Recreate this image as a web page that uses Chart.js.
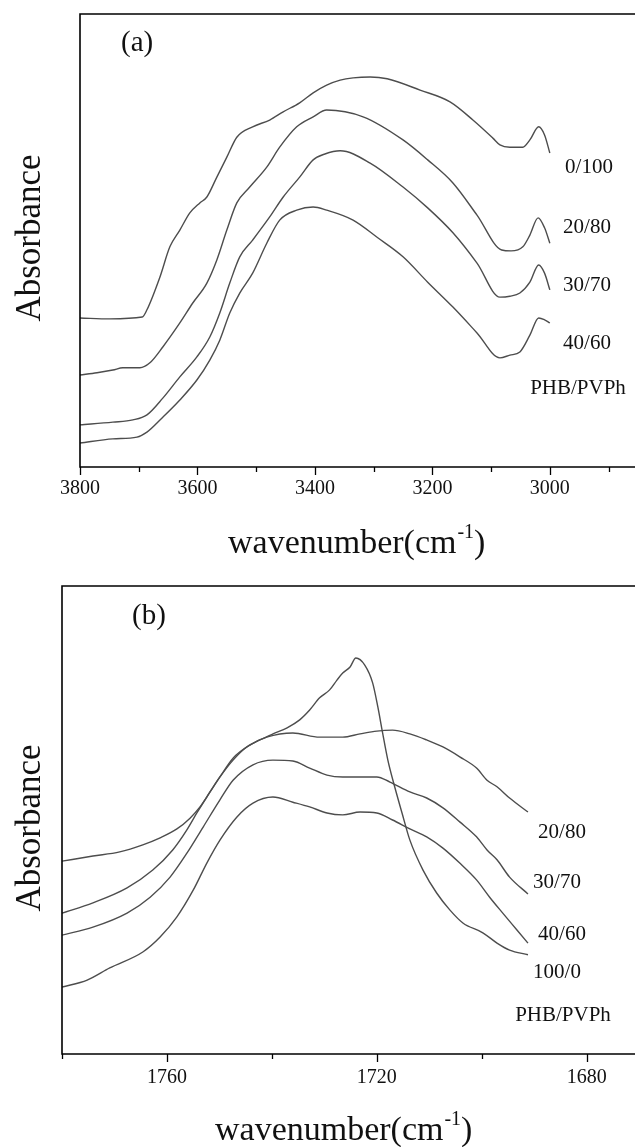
<!DOCTYPE html>
<html>
<head>
<meta charset="utf-8">
<script src="https://cdn.jsdelivr.net/npm/chart.js@4.4.1/dist/chart.umd.min.js"></script>
<style>
  html, body { margin: 0; padding: 0; background: #fff; }
  #wrap { position: relative; width: 635px; height: 1147px; overflow: hidden; }
  canvas { position: absolute; left: 0; }
</style>
</head>
<body>
<div id="wrap">
  <canvas id="panelA" width="635" height="570" style="top:0"></canvas>
  <canvas id="panelB" width="635" height="577" style="top:570px"></canvas>
</div>
<script>
// FTIR spectra of PHB/PVPh blends — (a) OH stretching, (b) carbonyl region

// panel (a): 3800-3000 cm-1, absorbance in arbitrary (offset) units
const a_wn_0_100  = [3800, 3749, 3694, 3686, 3664, 3647, 3630, 3613, 3596, 3584, 3567, 3550, 3533, 3506, 3477, 3454, 3426, 3403, 3380, 3357, 3335, 3306, 3277, 3221, 3170, 3131, 3097, 3085, 3068, 3046, 3034, 3019, 3009, 3000];
const a_abs_0_100 = [32.9, 32.7, 33.1, 34.7, 41.9, 48.6, 52.3, 56.1, 58.3, 59.6, 64.0, 68.4, 72.8, 75.1, 76.6, 78.4, 80.4, 82.6, 84.3, 85.4, 85.9, 86.1, 85.7, 83.2, 80.6, 76.6, 72.6, 71.1, 70.6, 70.6, 72.2, 75.1, 73.3, 69.3];

const a_wn_20_80  = [3800, 3771, 3744, 3727, 3698, 3681, 3659, 3630, 3608, 3584, 3567, 3550, 3533, 3511, 3482, 3460, 3431, 3403, 3380, 3318, 3250, 3208, 3165, 3124, 3082, 3066, 3046, 3034, 3020, 3009, 3000];
const a_abs_20_80 = [20.3, 20.8, 21.4, 21.9, 21.9, 23.0, 26.5, 31.8, 36.2, 40.6, 45.7, 52.3, 58.3, 61.8, 66.2, 70.6, 75.1, 77.3, 78.8, 77.3, 72.2, 67.8, 62.7, 55.6, 47.9, 47.7, 48.6, 51.2, 55.0, 52.8, 49.4];

const a_wn_30_70  = [3800, 3744, 3710, 3686, 3659, 3630, 3601, 3579, 3562, 3545, 3528, 3506, 3477, 3454, 3426, 3403, 3383, 3357, 3306, 3250, 3208, 3165, 3124, 3085, 3068, 3051, 3034, 3019, 3009, 3000];
const a_abs_30_70 = [9.3, 9.9, 10.4, 11.5, 15.2, 19.9, 24.3, 28.7, 34.0, 40.6, 46.4, 50.1, 55.2, 59.6, 64.0, 67.8, 69.1, 69.8, 67.1, 61.8, 57.2, 51.7, 45.0, 37.5, 37.7, 38.4, 40.8, 44.6, 42.8, 39.1];

const a_wn_40_60  = [3800, 3744, 3703, 3686, 3659, 3630, 3601, 3579, 3562, 3545, 3528, 3506, 3482, 3460, 3431, 3403, 3380, 3335, 3293, 3250, 3208, 3165, 3124, 3085, 3068, 3051, 3034, 3019, 3009, 3000];
const a_abs_40_60 = [5.3, 6.2, 6.6, 7.7, 11.0, 14.8, 19.2, 23.6, 28.0, 34.0, 38.4, 42.8, 49.4, 54.5, 56.7, 57.4, 56.7, 54.5, 50.6, 46.4, 40.8, 35.3, 29.6, 24.1, 24.7, 25.4, 29.1, 32.9, 32.5, 31.8];

// panel (b): 1780-1690 cm-1
const b_wn_100_0  = [1780.0, 1774.1, 1769.0, 1764.6, 1761.3, 1758.1, 1755.6, 1753.7, 1751.8, 1749.9, 1747.4, 1744.8, 1742.3, 1739.8, 1737.1, 1734.7, 1732.8, 1730.9, 1729.0, 1727.6, 1726.5, 1725.1, 1724.0, 1722.3, 1720.8, 1719.8, 1718.9, 1717.9, 1716.6, 1715.2, 1713.7, 1711.2, 1708.6, 1706.1, 1703.6, 1699.8, 1697.1, 1694.7, 1691.2];
const b_abs_100_0 = [41.2, 42.3, 43.2, 44.7, 46.2, 48.1, 50.4, 52.8, 56.0, 59.2, 62.8, 65.6, 67.1, 68.4, 69.7, 71.4, 73.5, 76.1, 77.8, 79.9, 81.4, 82.7, 84.6, 83.1, 79.3, 74.1, 68.6, 62.8, 57.1, 51.5, 45.7, 39.3, 34.4, 30.8, 28.0, 25.9, 23.7, 22.2, 21.2];

const b_wn_20_80  = [1780.0, 1774.1, 1767.6, 1762.7, 1758.9, 1756.2, 1754.3, 1752.4, 1749.9, 1747.4, 1744.2, 1741.0, 1736.0, 1730.9, 1726.5, 1723.2, 1720.0, 1717.0, 1713.7, 1710.5, 1707.4, 1704.2, 1701.0, 1699.0, 1697.1, 1694.7, 1691.2];
const b_abs_20_80 = [30.1, 32.3, 35.5, 39.3, 43.6, 47.9, 51.5, 54.9, 59.2, 63.2, 66.0, 67.7, 68.6, 67.7, 67.7, 68.4, 69.0, 69.2, 68.4, 67.1, 65.6, 63.5, 61.1, 58.5, 57.1, 54.7, 51.7];

const b_wn_30_70  = [1780.0, 1774.1, 1767.6, 1763.2, 1759.4, 1756.2, 1753.1, 1749.9, 1747.4, 1743.6, 1739.8, 1736.0, 1732.8, 1729.5, 1726.5, 1723.2, 1720.0, 1717.5, 1713.7, 1710.5, 1707.4, 1704.2, 1701.0, 1699.0, 1697.1, 1694.7, 1691.2];
const b_abs_30_70 = [25.4, 27.1, 30.1, 33.5, 37.8, 42.9, 48.5, 54.3, 58.5, 61.8, 62.8, 62.6, 61.1, 59.6, 59.2, 59.2, 59.2, 58.1, 56.0, 54.7, 52.6, 49.6, 46.4, 43.6, 41.5, 37.8, 34.2];

const b_wn_40_60  = [1780.0, 1775.2, 1770.9, 1764.6, 1761.3, 1758.1, 1755.0, 1752.4, 1749.9, 1746.7, 1743.6, 1739.8, 1736.0, 1732.8, 1729.5, 1726.5, 1723.2, 1720.0, 1717.0, 1713.7, 1710.5, 1707.4, 1704.2, 1701.0, 1698.5, 1696.0, 1693.3, 1691.2];
const b_abs_40_60 = [14.3, 15.8, 18.4, 21.8, 25.0, 29.3, 35.0, 40.8, 45.7, 50.6, 53.6, 54.9, 53.8, 52.8, 51.5, 51.1, 51.7, 51.5, 50.0, 48.1, 46.4, 44.0, 40.8, 37.2, 33.5, 30.1, 26.5, 23.7];

// axis ticks
const a_majorTicks = [3800, 3600, 3400, 3200, 3000];
const a_minorTicks = [3700, 3500, 3300, 3100, 2900];
const b_majorTicks = [1760, 1720, 1680];
const b_minorTicks = [1780, 1740, 1700];

const SERIF = '"Liberation Serif", "Times New Roman", serif';
const CURVE = '#4d4d4d';

const toPoints = (wn, abs) => wn.map((w, i) => ({ x: w, y: abs[i] }));

// frame, ticks and all text drawn on top of the plot
const frameAndText = {
    id: 'frameAndText',
    afterDraw(chart, args, o) {
        const { ctx, chartArea: ca } = chart;
        const x = chart.scales.x;
        ctx.save();
        ctx.strokeStyle = '#000';
        ctx.lineWidth = 1.6;
        ctx.beginPath();
        ctx.moveTo(chart.width, ca.top);
        ctx.lineTo(ca.left, ca.top);
        ctx.lineTo(ca.left, ca.bottom);
        ctx.lineTo(chart.width, ca.bottom);
        ctx.stroke();

        ctx.lineWidth = 1.3;
        const tick = (v, len) => {
            const px = Math.round(x.getPixelForValue(v)) + 0.5;
            ctx.beginPath();
            ctx.moveTo(px, ca.bottom);
            ctx.lineTo(px, ca.bottom + len);
            ctx.stroke();
        };
        o.major.forEach(v => tick(v, 8));
        o.minor.forEach(v => tick(v, 5));

        ctx.fillStyle = '#111';
        ctx.textAlign = 'center';
        ctx.textBaseline = 'alphabetic';
        ctx.font = '20px ' + SERIF;
        o.major.forEach(v => ctx.fillText(String(v), x.getPixelForValue(v), o.tickBaseline));

        // panel letter
        ctx.textAlign = 'left';
        ctx.font = '29px ' + SERIF;
        ctx.fillText(o.letter, o.letterPos[0], o.letterPos[1]);

        // curve labels
        ctx.textAlign = 'center';
        ctx.textBaseline = 'middle';
        ctx.font = '21px ' + SERIF;
        o.labels.forEach(l => ctx.fillText(l.text, l.x, l.y));

        // y title
        ctx.save();
        ctx.translate(o.yTitlePos[0], o.yTitlePos[1]);
        ctx.rotate(-Math.PI / 2);
        ctx.textAlign = 'center';
        ctx.textBaseline = 'alphabetic';
        ctx.font = '35px ' + SERIF;
        ctx.fillText('Absorbance', 0, 0);
        ctx.restore();

        // x title with superscript
        ctx.textAlign = 'left';
        ctx.textBaseline = 'alphabetic';
        let tx = o.xTitlePos[0];
        const ty = o.xTitlePos[1];
        ctx.font = '34px ' + SERIF;
        ctx.fillText('wavenumber(cm', tx, ty);
        tx += ctx.measureText('wavenumber(cm').width + 1;
        ctx.font = '20px ' + SERIF;
        ctx.fillText('-1', tx, ty - 15);
        tx += ctx.measureText('-1').width;
        ctx.font = '34px ' + SERIF;
        ctx.fillText(')', tx, ty);
        ctx.restore();
    }
};

function makePanel(id, series, range, pad, deco) {
    return new Chart(document.getElementById(id), {
        type: 'line',
        data: {
            datasets: series.map(s => ({
                label: s.label,
                data: toPoints(s.wn, s.abs),
                borderColor: CURVE,
                borderWidth: 1.4,
                pointRadius: 0,
                cubicInterpolationMode: 'monotone',
                fill: false,
            }))
        },
        options: {
            responsive: false,
            animation: false,
            layout: { padding: pad },
            scales: {
                x: { type: 'linear', reverse: true, min: range[0], max: range[1], display: false },
                y: { min: 0, max: 100, display: false },
            },
            plugins: {
                legend: { display: false },
                tooltip: { enabled: false },
                frameAndText: deco,
            }
        },
        plugins: [frameAndText]
    });
}

// Panel (a)
makePanel('panelA', [
    { label: '0/100', wn: a_wn_0_100, abs: a_abs_0_100 },
    { label: '20/80', wn: a_wn_20_80, abs: a_abs_20_80 },
    { label: '30/70', wn: a_wn_30_70, abs: a_abs_30_70 },
    { label: '40/60', wn: a_wn_40_60, abs: a_abs_40_60 },
], [2855, 3800], { left: 80, top: 14, right: 0, bottom: 103 }, {
    major: a_majorTicks, minor: a_minorTicks,
    tickBaseline: 494,
    letter: '(a)', letterPos: [121, 51],
    labels: [
        { text: '0/100', x: 589, y: 167 },
        { text: '20/80', x: 587, y: 227 },
        { text: '30/70', x: 587, y: 285 },
        { text: '40/60', x: 587, y: 343 },
        { text: 'PHB/PVPh', x: 578, y: 388 },
    ],
    yTitlePos: [40, 238],
    xTitlePos: [228, 553],
});

// Panel (b)
makePanel('panelB', [
    { label: '100/0', wn: b_wn_100_0, abs: b_abs_100_0 },
    { label: '20/80', wn: b_wn_20_80, abs: b_abs_20_80 },
    { label: '30/70', wn: b_wn_30_70, abs: b_abs_30_70 },
    { label: '40/60', wn: b_wn_40_60, abs: b_abs_40_60 },
], [1670.8, 1780], { left: 62, top: 16, right: 0, bottom: 93 }, {
    major: b_majorTicks, minor: b_minorTicks,
    tickBaseline: 513,
    letter: '(b)', letterPos: [132, 54],
    labels: [
        { text: '20/80', x: 562, y: 262 },
        { text: '30/70', x: 557, y: 312 },
        { text: '40/60', x: 562, y: 364 },
        { text: '100/0', x: 557, y: 402 },
        { text: 'PHB/PVPh', x: 563, y: 445 },
    ],
    yTitlePos: [40, 258],
    xTitlePos: [215, 570],
});
</script>
</body>
</html>
